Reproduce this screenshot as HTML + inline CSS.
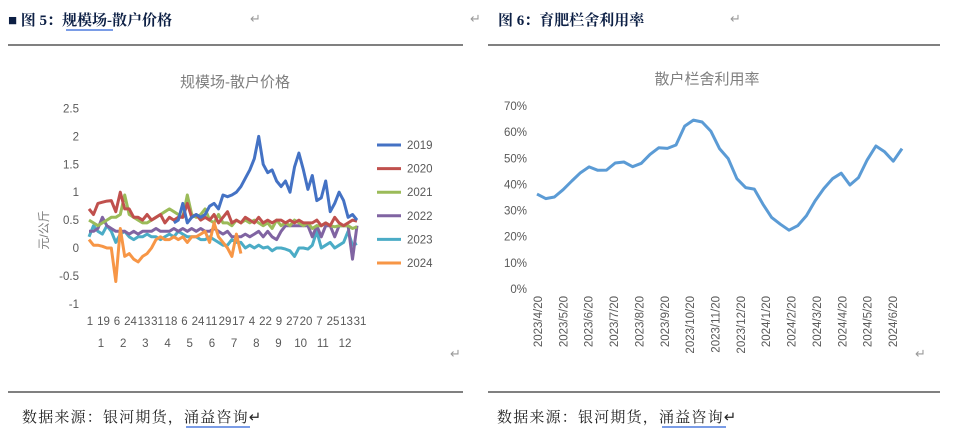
<!DOCTYPE html>
<html><head><meta charset="utf-8"><style>
body{margin:0;background:#fff;width:962px;height:439px;overflow:hidden}
svg{display:block}
text{font-family:"Liberation Sans","Noto Sans CJK SC",sans-serif}
.hd{font-family:"Liberation Serif","Noto Serif CJK SC",serif;font-weight:bold;fill:#0c1f44;font-size:15px}
.ft{font-family:"Liberation Serif","Noto Serif CJK SC",serif;fill:#222;font-size:15px;letter-spacing:1.2px}
.ax{fill:#595959;font-size:11.5px}
</style></head><body>
<svg id="svg" width="962" height="439">
<text class="hd" x="8" y="25">■ 图 5：规模场-散户价格</text>
<line x1="66" y1="30" x2="113" y2="30" stroke="#2a62d8" stroke-width="1.2"/>
<text x="250" y="23" fill="#999" font-size="13">↵</text>
<text class="hd" x="498" y="25">图 6：育肥栏舍利用率</text>
<text x="730" y="23" fill="#999" font-size="13">↵</text>
<text x="470" y="23" fill="#999" font-size="13">↵</text>
<line x1="8" y1="45" x2="463" y2="45" stroke="#000" stroke-width="1"/>
<line x1="488" y1="45" x2="940" y2="45" stroke="#000" stroke-width="1"/>
<line x1="8" y1="392" x2="463" y2="392" stroke="#000" stroke-width="1"/>
<line x1="488" y1="392" x2="940" y2="392" stroke="#000" stroke-width="1"/>
<text class="ft" x="22" y="422">数据来源：银河期货，涌益咨询↵</text>
<text class="ft" x="497" y="422">数据来源：银河期货，涌益咨询↵</text>
<line x1="186" y1="427" x2="250" y2="427" stroke="#2a62d8" stroke-width="1.2"/>
<line x1="662" y1="427" x2="726" y2="427" stroke="#2a62d8" stroke-width="1.2"/>
<text x="450" y="358" fill="#999" font-size="13">↵</text>
<text x="915" y="358" fill="#999" font-size="13">↵</text>

<text x="235" y="87" text-anchor="middle" fill="#7f7f7f" font-size="15">规模场-散户价格</text>
<text x="707" y="84" text-anchor="middle" fill="#7f7f7f" font-size="15">散户栏舍利用率</text>
<text transform="translate(48,230) rotate(-90)" text-anchor="middle" fill="#7f7f7f" font-size="12">元/公斤</text>
<g id="left"></g><g id="right"></g>
</svg>
<script>
const NS='http://www.w3.org/2000/svg';
const leftTicks=[2.5,2,1.5,1,0.5,0,-0.5,-1];
const leftDayLabels=['1','19','6','24','13','31','18','6','24','11','29','17','4','22','9','27','20','7','25','13','31'];
const leftMonthLabels=['1','2','3','4','5','6','7','8','9','10','11','12'];
const seriesNames=['2019','2020','2021','2022','2023','2024'];
const seriesColors=['#4472c4','#c0504d','#9bbb59','#8064a2','#4bacc6','#f79646'];
const s2019=[null,null,null,null,null,null,null,null,null,null,null,null,null,null,null,null,null,null,null,0.45,0.5,0.8,0.45,0.55,0.6,0.55,0.6,0.75,0.8,0.7,0.95,0.92,0.95,1.0,1.1,1.25,1.4,1.6,2.0,1.5,1.35,1.4,1.2,1.1,1.2,1.0,1.45,1.7,1.4,1.05,1.3,0.85,0.9,1.2,0.65,0.8,1.0,0.85,0.55,0.6,0.5];
const s2020=[0.7,0.6,0.8,0.82,0.84,0.85,0.65,1.0,0.7,0.7,0.55,0.55,0.5,0.6,0.5,0.55,0.6,0.45,0.55,0.5,0.55,0.55,0.8,0.55,0.6,0.5,0.55,0.5,0.6,0.45,0.55,0.65,0.45,0.5,0.45,0.55,0.5,0.45,0.55,0.45,0.5,0.45,0.5,0.5,0.45,0.5,0.45,0.5,0.45,0.45,0.45,0.5,0.4,0.45,0.4,0.55,0.45,0.4,0.45,0.5,0.48];
const s2021=[0.5,0.45,0.4,0.45,0.5,0.55,0.55,0.6,0.95,0.6,0.55,0.5,0.45,0.45,0.5,0.55,0.6,0.65,0.7,0.65,0.6,0.55,0.95,0.6,0.55,0.6,0.7,0.5,0.45,0.6,0.45,0.45,0.4,0.5,0.45,0.5,0.45,0.5,0.45,0.4,0.45,0.35,0.5,0.4,0.45,0.4,0.5,0.45,0.4,0.45,0.35,0.4,0.4,0.45,0.4,0.38,0.4,0.4,0.4,0.35,0.38];
const s2022=[0.3,0.3,0.35,0.55,0.4,0.35,0.3,0.3,0.3,0.25,0.3,0.25,0.3,0.3,0.3,0.35,0.3,0.3,0.3,0.35,0.3,0.35,0.3,0.35,0.3,0.35,0.3,0.3,0.35,0.3,0.25,0.3,0.2,0.2,0.2,0.25,0.2,0.25,0.3,0.2,0.3,0.2,0.15,0.3,0.4,0.4,0.4,0.4,0.4,0.4,0.2,0.4,0.2,0.4,0.4,0.2,0.4,0.4,0.4,-0.2,0.4];
const s2023=[0.2,0.4,0.3,0.25,0.4,0.3,0.1,0.25,0.3,0.2,0.15,0.2,0.2,0.25,0.2,0.2,0.15,0.2,0.25,0.2,0.3,0.25,0.2,0.2,0.2,0.15,0.15,0.2,0.15,0.1,0.05,0.05,0.15,0.1,0.1,0.0,0.05,0.0,0.05,0.0,0.02,-0.05,0.0,0.0,-0.02,-0.05,-0.15,0.0,0.0,-0.02,0.05,0.3,0.0,0.05,0.1,0.0,0.05,0.1,0.3,0.05,0.08];
const s2024=[0.15,0.05,0.05,0.03,0.0,0.0,-0.6,0.35,-0.15,-0.1,-0.2,-0.25,-0.15,-0.1,0.0,0.15,0.2,0.15,0.15,0.2,0.15,0.2,0.1,0.2,0.2,0.25,0.3,0.1,0.45,0.2,0.1,0.0,-0.15,0.25,-0.1];
const rightTicks=[0,10,20,30,40,50,60,70];
const rightDates=['2023/4/20','2023/5/20','2023/6/20','2023/7/20','2023/8/20','2023/9/20','2023/10/20','2023/11/20','2023/12/20','2024/1/20','2024/2/20','2024/3/20','2024/4/20','2024/5/20','2024/6/20'];
const rate=[36.3,34.6,35.2,38,41.3,44.5,46.7,45.4,45.5,48.2,48.6,46.8,48.1,51.5,54,53.8,55.1,62.3,64.6,63.9,60.4,53.7,49.9,42.2,38.8,38.2,32.4,27.4,24.8,22.5,24.2,28,33.7,38.4,42.2,44.3,39.8,42.6,49.4,54.7,52.5,48.9,53.7];

function mk(tag,attrs,parent,txt){const e=document.createElementNS(NS,tag);for(const k in attrs)e.setAttribute(k,attrs[k]);if(txt!==undefined)e.textContent=txt;parent.appendChild(e);return e;}
const L=document.getElementById('left');
const ly=v=>248-(v)*55.8;
const N=61, lx0=89, lx1=357;
const lx=i=>lx0+i*(lx1-lx0)/(N-1);
leftTicks.forEach(t=>{const e=mk('text',{x:79,y:ly(t)+4,'text-anchor':'end',class:'ax'},L,String(t));

});
leftDayLabels.forEach((t,i)=>{const e=mk('text',{x:90+i*(360-90)/(leftDayLabels.length-1),y:325,'text-anchor':'middle',class:'ax'},L,t);

});
leftMonthLabels.forEach((t,i)=>{const e=mk('text',{x:101+i*(345-101)/(leftMonthLabels.length-1),y:347,'text-anchor':'middle',class:'ax'},L,t);

});
const allS=[s2019,s2020,s2021,s2022,s2023,s2024];
[4,3,2,1,5,0].forEach(k=>{const arr=allS[k];let d='',pen=false;
arr.forEach((v,i)=>{if(v===null){pen=false;return;}d+=(pen?'L':'M')+lx(i).toFixed(1)+','+ly(v).toFixed(1);pen=true;});
const p=mk('path',{d:d,fill:'none',stroke:seriesColors[k],'stroke-width':3,'stroke-linejoin':'round'},L);

});
seriesNames.forEach((n,k)=>{const y=145+k*23.6;
const g=mk('g',{},L);


mk('line',{x1:377,y1:y,x2:401,y2:y,stroke:seriesColors[k],'stroke-width':3},g);
mk('text',{x:407,y:y+4,class:'ax'},g,n);});
const R=document.getElementById('right');
const ry=v=>289-v*2.614;
const rx0=537, rx1=902;
const rx=i=>rx0+i*(rx1-rx0)/(rate.length-1);
rightTicks.forEach(t=>{const e=mk('text',{x:527,y:ry(t)+4,'text-anchor':'end',class:'ax'},R,t+'%');

});
rightDates.forEach((t,i)=>{const x=538+i*(893-538)/(rightDates.length-1);
const e=mk('text',{transform:'translate('+(x+4)+',296) rotate(-90)','text-anchor':'end',class:'ax'},R,t);

});
let d='';rate.forEach((v,i)=>{d+=(i?'L':'M')+rx(i).toFixed(1)+','+ry(v).toFixed(1);});
const rp=mk('path',{d:d,fill:'none',stroke:'#5b9bd5','stroke-width':3,'stroke-linejoin':'round'},R);


</script>
</body></html>
